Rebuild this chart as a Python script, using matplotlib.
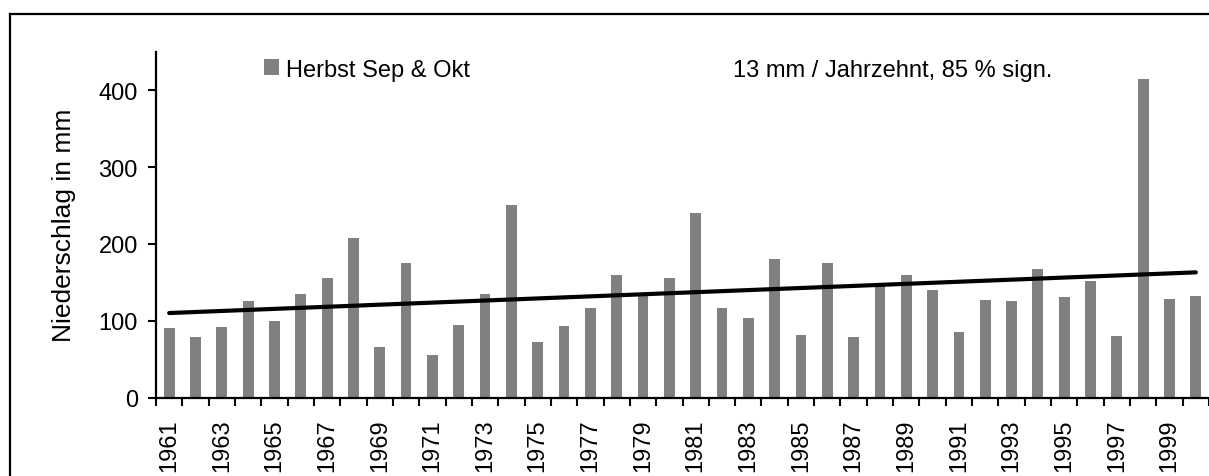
import matplotlib
matplotlib.use("Agg")
import matplotlib.pyplot as plt
from matplotlib.lines import Line2D
import numpy as np

years = list(range(1961, 2001))
niederschlag = [90, 79, 92, 126, 100, 135, 156, 208, 66, 175,
                55, 94, 135, 251, 72, 93, 117, 160, 133, 156,
                240, 117, 104, 180, 81, 175, 79, 146, 160, 140,
                85, 127, 126, 167, 131, 152, 80, 415, 128, 132]
trend_start, trend_end = 110, 163
yticks = [0, 100, 200, 300, 400]
xtick_labels = [str(y) for y in years[::2]]

plt.rcParams['font.family'] = ['Liberation Sans', 'DejaVu Sans']
FS = 17

fig = plt.figure(figsize=(12.09, 4.77), dpi=100)
ax = fig.add_axes([156/1209, (477-398.5)/477, 1 - 156/1209, (398.5-53)/477])

x = np.arange(len(years))
ax.bar(x, niederschlag, width=0.41, color='#808080', label='Herbst Sep & Okt', zorder=2)
ax.plot([x[0], x[-1]], [trend_start, trend_end], color='black', lw=3, solid_capstyle='round', zorder=3)

ax.set_xlim(-0.5, len(years) - 0.5)
ax.set_ylim(0, 450)
ax.set_yticks(yticks)
ax.tick_params(axis='y', direction='out', length=6, width=1.5, labelsize=FS, pad=7)

ax.set_xticks(np.arange(-0.5, len(years), 1.0))
ax.set_xticklabels([])
ax.tick_params(axis='x', which='major', direction='out', length=6, width=1.5)
ax.set_xticks(x[::2], minor=True)
ax.set_xticklabels(xtick_labels, minor=True, rotation=90, fontsize=FS)
ax.tick_params(axis='x', which='minor', length=0, pad=15)

for s in ['top', 'right']:
    ax.spines[s].set_visible(False)
for s in ['left', 'bottom']:
    ax.spines[s].set_linewidth(1.6)

ax.set_ylabel('Niederschlag in mm', fontsize=19, labelpad=16)

ax.legend(loc='center left', bbox_to_anchor=(264/1209, 1 - 70.5/477), bbox_transform=fig.transFigure,
          frameon=False, fontsize=FS, handlelength=0.64, handleheight=0.64, handletextpad=0.28,
          borderaxespad=0, borderpad=0)
fig.text(733/1209, 1 - 70.5/477, '13 mm / Jahrzehnt, 85 % sign.', fontsize=FS, va='center', ha='left')

fy = 1 - 14.5/477
fx = 9.5/1209
fig.add_artist(Line2D([fx, 1.0], [fy, fy], transform=fig.transFigure, color='black', lw=1.6))
fig.add_artist(Line2D([fx, fx], [0, fy], transform=fig.transFigure, color='black', lw=1.6))

fig.savefig('out.png', dpi=100)
